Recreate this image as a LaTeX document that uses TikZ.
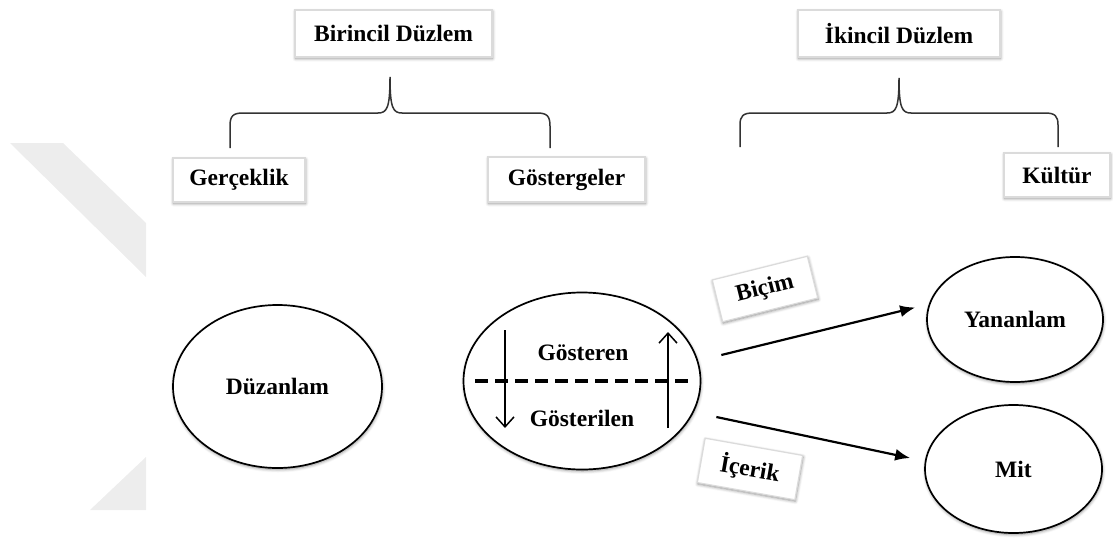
\documentclass[tikz,border=0pt]{standalone}
\usepackage{fontspec}
\setmainfont{Liberation Serif}
\usetikzlibrary{shapes.geometric,arrows.meta,shadows.blur}
\begin{document}
\begin{tikzpicture}[x=1pt,y=-1pt,
  every node/.style={font=\fontsize{23.5}{27}\selectfont\bfseries},
  sh/.style={blur shadow={shadow xshift=0.5pt,shadow yshift=-1.5pt,shadow blur radius=3pt,shadow opacity=45}},
  labelbox/.style={draw=black!14,line width=1.2pt,fill=white,sh,inner sep=0pt},
  oval/.style={ellipse,draw=black,line width=1.7pt,fill=white,sh,inner sep=0pt},
  bracepath/.style={draw=black!80,line width=1.5pt},
  arr/.style={line width=2.2pt,-{Latex[length=15pt,width=12pt]}},
  inarr/.style={line width=1.5pt,-{Straight Barb[length=10pt,width=18pt]}},
  wm/.style={fill=black!7,draw=none}]
\useasboundingbox (0,0) rectangle (1113,538);
% watermark shapes
\fill[wm] (10,143) -- (63,143) -- (146,223) -- (146,277) -- cycle;
\fill[wm] (90,510) -- (146,457) -- (146,510) -- cycle;
% top boxes
\node[labelbox,minimum width=197,minimum height=47] (bir) at (393.5,33.5) {Birincil Düzlem};
\node[labelbox,minimum width=202,minimum height=47] (iki) at (899,33.5) {İkincil Düzlem};
\node[labelbox,minimum width=132,minimum height=44] (ger) at (239,180) {Gerçeklik};
\node[labelbox,minimum width=157,minimum height=45] (gos) at (566.5,179.5) {Göstergeler};
\node[labelbox,minimum width=106,minimum height=44] (kul) at (1057,175) {Kültür};
% braces
\coordinate (b1l) at (230,148);
\coordinate (b1t) at (390,77);
\coordinate (b1r) at (550,148);
\draw[bracepath] (b1l) -- (230,126) .. controls (230,116) and (233,113) .. (243,113) -- (378,113)
  .. controls (387,113) and (390,108) .. (b1t)
  .. controls (390,108) and (393,113) .. (402,113) -- (537,113)
  .. controls (547,113) and (550,116) .. (550,126) -- (b1r);
\coordinate (b2l) at (740,147);
\coordinate (b2t) at (899,78);
\coordinate (b2r) at (1058,147);
\draw[bracepath] (b2l) -- (740,125) .. controls (740,116) and (743,113) .. (753,113) -- (887,113)
  .. controls (896,113) and (899,108) .. (b2t)
  .. controls (899,108) and (902,113) .. (911,113) -- (1045,113)
  .. controls (1055,113) and (1058,116) .. (1058,125) -- (b2r);
% ellipses
\node[oval,minimum width=209,minimum height=163] (duz) at (277.5,386.5) {Düzanlam};
\node[oval,minimum width=237,minimum height=177] (gs) at (582,381) {};
\node[oval,minimum width=176,minimum height=125] (yan) at (1015,319.5) {Yananlam};
\node[oval,minimum width=177,minimum height=128] (mit) at (1013.5,469) {Mit};
% inside central ellipse
\node (gst) at (583,353) {Gösteren};
\node (gsl) at (582,418) {Gösterilen};
\draw[line width=3.2pt,dash pattern=on 13pt off 7pt] ([xshift=-107pt]gs.center) coordinate (dl) -- ([xshift=108pt]gs.center) coordinate (dr);
\draw[inarr] ([shift={(-77,-51)}]gs.center) coordinate (d1) -- ([shift={(-77,47)}]gs.center) coordinate (d2);
\draw[inarr] ([shift={(86,47)}]gs.center) coordinate (u1) -- ([shift={(86,-49)}]gs.center) coordinate (u2);
% arrows to right
\draw[arr] ([shift={(20,-26)}]gs.east) coordinate (a1s) -- ([shift={(-11,-12)}]yan.west) coordinate (a1e);
\draw[arr] ([shift={(15,36)}]gs.east) coordinate (a2s) -- ([shift={(-14,-11)}]mit.west) coordinate (a2e);
% rotated labels
\node[labelbox,rotate=14,minimum width=98,minimum height=43] (bic) at (765,289) {Biçim};
\node[labelbox,rotate=-10,minimum width=99,minimum height=45] (ice) at (750,469) {İçerik};
\end{tikzpicture}
\end{document}
